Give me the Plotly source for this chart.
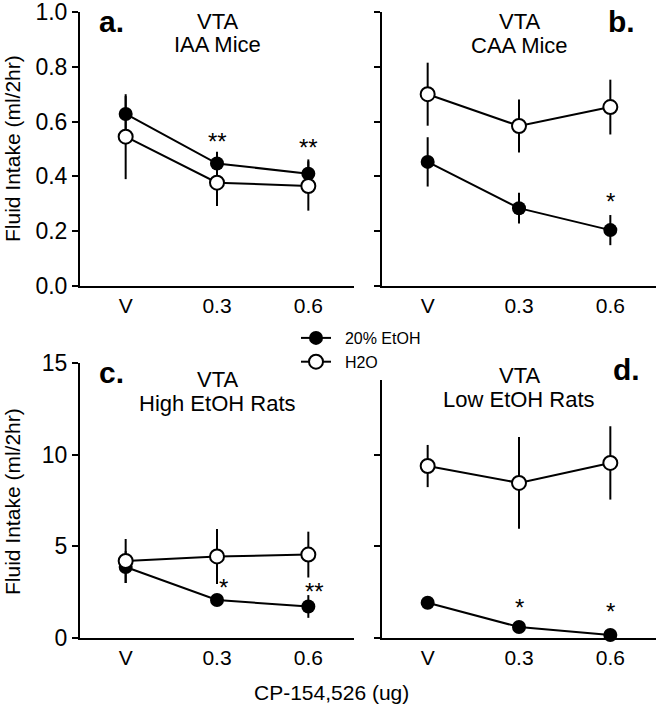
import plotly.graph_objects as go

# CP-154,526 dose groups
doses = ["V", "0.3", "0.6"]

# a. VTA IAA Mice
a_etoh = [0.628, 0.447, 0.41]
a_etoh_err = [0.065, 0.043, 0.052]
a_h2o = [0.545, 0.377, 0.365]
a_h2o_err = [0.155, 0.085, 0.09]

# b. VTA CAA Mice
b_etoh = [0.453, 0.284, 0.204]
b_etoh_err = [0.09, 0.056, 0.055]
b_h2o = [0.70, 0.584, 0.653]
b_h2o_err = [0.115, 0.097, 0.10]

# c. VTA High EtOH Rats
c_etoh = [3.87, 2.07, 1.72]
c_etoh_err = [0.87, 0.30, 0.62]
c_h2o = [4.20, 4.45, 4.55]
c_h2o_err = [1.20, 1.50, 1.25]

# d. VTA Low EtOH Rats
d_etoh = [1.92, 0.60, 0.16]
d_etoh_err = [0.30, 0.10, 0.10]
d_h2o = [9.38, 8.46, 9.55]
d_h2o_err = [1.15, 2.50, 2.00]

# significance marks: (panel axes, dose, y, text)
stars = [
    ("x", "y", "0.3", 0.536, "**"),
    ("x", "y", "0.6", 0.511, "**"),
    ("x2", "y2", "0.6", 0.314, "*"),
    ("x3", "y3", "0.3", 2.89, "*"),
    ("x3", "y3", "0.6", 2.62, "**"),
    ("x4", "y4", "0.3", 1.80, "*"),
    ("x4", "y4", "0.6", 1.53, "*"),
]

FONT = "Arial, Liberation Sans, sans-serif"

W, H = 662, 710


def px(p):
    return p / W


def py(p):
    return 1 - p / H


fig = go.Figure()

panels = [
    ("x", "y", a_etoh, a_etoh_err, a_h2o, a_h2o_err),
    ("x2", "y2", b_etoh, b_etoh_err, b_h2o, b_h2o_err),
    ("x3", "y3", c_etoh, c_etoh_err, c_h2o, c_h2o_err),
    ("x4", "y4", d_etoh, d_etoh_err, d_h2o, d_h2o_err),
]

for i, (xa, ya, etoh, etoh_err, h2o, h2o_err) in enumerate(panels):
    fig.add_trace(go.Scatter(
        x=doses, y=etoh, xaxis=xa, yaxis=ya,
        name="\u00a0\u00a020% EtOH", legendrank=1, showlegend=(i == 0),
        mode="lines+markers", cliponaxis=False,
        line=dict(color="black", width=2),
        marker=dict(symbol="circle", size=14, color="black"),
        error_y=dict(type="data", array=etoh_err, color="black", thickness=2, width=0),
    ))
    fig.add_trace(go.Scatter(
        x=doses, y=h2o, xaxis=xa, yaxis=ya,
        name="\u00a0\u00a0H2O", legendrank=2, showlegend=(i == 0),
        mode="lines+markers", cliponaxis=False,
        line=dict(color="black", width=2),
        marker=dict(symbol="circle", size=14, color="white",
                    line=dict(color="black", width=2)),
        error_y=dict(type="data", array=h2o_err, color="black", thickness=2, width=0),
    ))

xstyle = dict(type="category", range=[-0.5, 2.5], showline=True, linewidth=2,
              linecolor="black", ticks="", showgrid=False, zeroline=False,
              automargin=False, ticklabeloverflow="allow",
              tickfont=dict(size=21, color="black"))
ystyle = dict(showline=True, linewidth=2, linecolor="black", ticks="outside",
              ticklen=6, tickwidth=2, tickcolor="black", showgrid=False,
              zeroline=False, automargin=False, ticklabeloverflow="allow",
              tickfont=dict(size=23, color="black"))

left = [px(80), px(354)]
right = [px(382), px(656)]
top = [py(286), py(12)]
bottom = [py(638), py(363)]
bottom_d = [py(638), py(380)]

fig.update_layout(
    xaxis=dict(xstyle, domain=left, anchor="y"),
    yaxis=dict(ystyle, domain=top, anchor="x", range=[0, 1], dtick=0.2, tickformat=".1f"),
    xaxis2=dict(xstyle, domain=right, anchor="y2"),
    yaxis2=dict(ystyle, domain=top, anchor="x2", range=[0, 1], dtick=0.2, showticklabels=False),
    xaxis3=dict(xstyle, domain=left, anchor="y3"),
    yaxis3=dict(ystyle, domain=bottom, anchor="x3", range=[0, 15], dtick=5),
    xaxis4=dict(xstyle, domain=right, anchor="y4"),
    yaxis4=dict(ystyle, domain=bottom_d, anchor="x4", range=[0, 15 * 258 / 275],
                tickvals=[0, 5, 10], showticklabels=False),
)

annotations = []

# panel titles and letters
titles = [
    ("x", ["VTA", "IAA Mice"], [22, 44], "a.", 111, 22),
    ("x2", ["VTA", "CAA Mice"], [22, 45], "b.", 621, 22),
    ("x3", ["VTA", "High EtOH Rats"], [380, 403], "c.", 111, 372),
    ("x4", ["VTA", "Low EtOH Rats"], [375, 399], "d.", 626, 369),
]
for xa, lines, ys, letter, lx, ly in titles:
    for txt, yy in zip(lines, ys):
        annotations.append(dict(
            text=txt, xref=xa, x=1, yref="paper", y=py(yy),
            showarrow=False, xanchor="center", yanchor="middle",
            font=dict(family=FONT, size=22, color="black"),
        ))
    annotations.append(dict(
        text="<b>" + letter + "</b>", xref="paper", x=px(lx), yref="paper", y=py(ly),
        showarrow=False, xanchor="center", yanchor="middle",
        font=dict(family=FONT, size=30, color="black"),
    ))

for xa, ya, dose, yv, txt in stars:
    shift = 6 if xa == "x3" else 0
    annotations.append(dict(
        text=txt, xref=xa, x=doses.index(dose), yref=ya, y=yv, xshift=shift, yshift=-2,
        showarrow=False, xanchor="center", yanchor="middle",
        font=dict(family=FONT, size=24, color="black"),
    ))

# axis titles
for yy in [149, 502]:
    annotations.append(dict(
        text="Fluid Intake (ml/2hr)", xref="paper", x=px(13), yref="paper", y=py(yy),
        showarrow=False, textangle=-90, xanchor="center", yanchor="middle",
        font=dict(family=FONT, size=21, color="black"),
    ))
annotations.append(dict(
    text="CP-154,526 (ug)", xref="paper", x=px(331), yref="paper", y=py(692),
    showarrow=False, xanchor="center", yanchor="middle",
    font=dict(family=FONT, size=21, color="black"),
))

fig.update_layout(
    annotations=annotations,
    width=W, height=H,
    margin=dict(l=0, r=0, t=0, b=0),
    paper_bgcolor="white", plot_bgcolor="white",
    font=dict(family=FONT, color="black"),
    legend=dict(x=px(296), y=py(321), xanchor="left", yanchor="top",
                font=dict(family=FONT, size=16, color="black"),
                bgcolor="rgba(0,0,0,0)", tracegroupgap=0, itemwidth=30),
)

# drop the browser's default body margin so the figure sits at the page corner
fig.write_html("out.html", config={"displayModeBar": False},
               post_script="document.body.style.margin = '0px';")
